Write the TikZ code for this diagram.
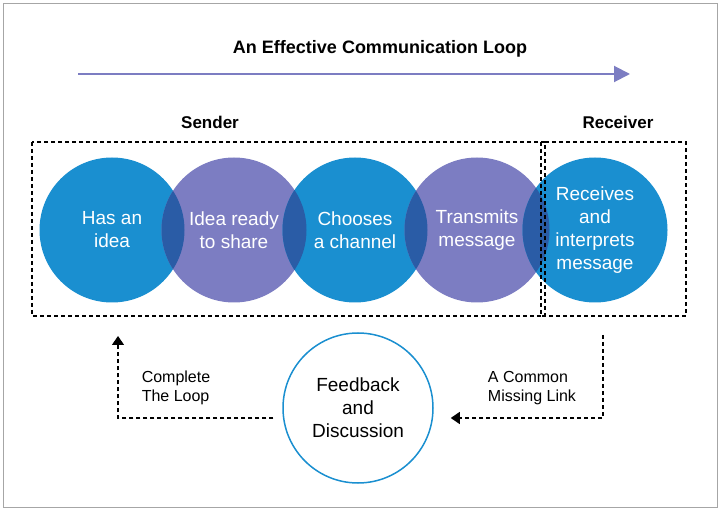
\documentclass[tikz,border=0pt]{standalone}
\usepackage{fontspec}
\setmainfont{Liberation Sans}
\usetikzlibrary{arrows.meta}
\definecolor{cblue}{HTML}{1A8FD0}
\definecolor{cpurple}{HTML}{7C7DC2}
\definecolor{cdark}{HTML}{2A5CA6}
\tikzset{circ/.style={circle,minimum size=145pt,inner sep=0pt,align=center,text=white,font=\fontsize{19}{23}\selectfont},
  lbl/.style={font=\fontsize{17}{19}\selectfont\bfseries},
  dline/.style={line width=1.2pt,dash pattern=on 4pt off 3pt}}
\begin{document}
\begin{tikzpicture}[x=1pt,y=-1pt]
  \useasboundingbox (0,0) rectangle (720,510);
  \draw[gray!70] (3,3) rectangle (717,507);
  \node[lbl,font=\fontsize{18}{20}\selectfont\bfseries] (title) at (380,49) {An Effective Communication Loop};
  \coordinate (a1) at (78,74);
  \coordinate (a2) at (630,74);
  \draw[cpurple,line width=2pt,-{Triangle[length=16pt,width=16pt]}] (a1) -- (a2);
  \node[lbl] (send) at (210,122) {Sender};
  \node[lbl] (recv) at (618,122) {Receiver};
  % circles
  \node[circ,fill=cblue] (c1) at (112,230) {};
  \node[circ,fill=cpurple] (c2) at (234,230) {};
  \node[circ,fill=cblue] (c3) at (355,230) {};
  \node[circ,fill=cpurple] (c4) at (477,230) {};
  \node[circ,fill=cblue] (c5) at (595,230) {};
  % overlaps
  \foreach \p/\q in {112/234,234/355,355/477,477/595}{
    \begin{scope}
      \clip (\p,230) circle (72.5);
      \fill[cdark] (\q,230) circle (72.5);
    \end{scope}}
  \node[circ] at (c1) {Has an\\idea};
  \node[circ] at (c2) {Idea ready\\to share};
  \node[circ] at (c3) {Chooses\\a channel};
  \node[circ] at (c4) {Transmits\\message};
  \node[circ] at (c5) {Receives\\and\\interprets\\message};
  \draw[dline] (32,142) rectangle (545,316);
  \draw[dline] (541,142) rectangle (686,316);
  % feedback
  \node[circ,minimum size=150pt,fill=white,draw=cblue,line width=1.5pt,text=black] (fb) at (358,408) {Feedback\\and\\Discussion};
  \coordinate (r1) at (603,335);
  \coordinate (r2) at (603,418);
  \coordinate (l1) at (118,418);
  \coordinate (l2) at (118,336);
  \draw[dline,-{Triangle[length=9pt,width=12pt]}] (r1) -- (r2) -- ([xshift=17pt]fb.east |- r2);
  \draw[dline,-{Triangle[length=9pt,width=12pt]}] ([xshift=-9pt]fb.west |- l1) -- (l1) -- (l2);
  \node[font=\fontsize{16}{19}\selectfont,align=left] (ml) at (532,388) {A Common\\Missing Link};
  \node[font=\fontsize{16}{19}\selectfont,align=left] (cl) at (176,388) {Complete\\The Loop};
\end{tikzpicture}
\end{document}
